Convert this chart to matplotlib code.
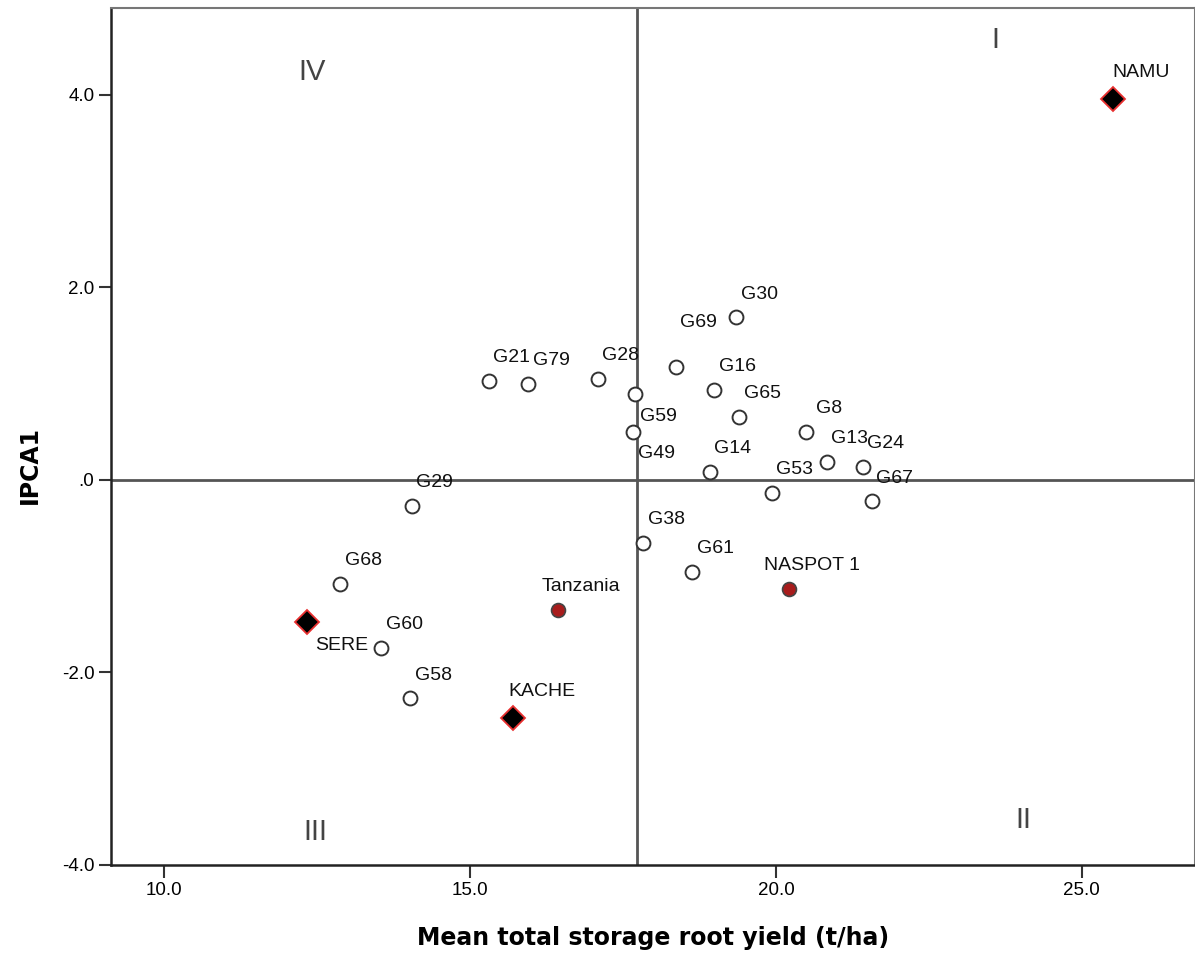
import matplotlib
matplotlib.use("Agg")
import matplotlib.pyplot as plt

# genotipos (circulos abiertos)
geno_nombres = ["G21", "G79", "G28", "G69", "G59", "G49", "G29", "G30", "G16",
                "G65", "G8", "G13", "G24", "G14", "G53", "G67", "G38", "G61",
                "G68", "G60", "G58"]
geno_x = [15.31, 15.95, 17.09, 18.37, 17.70, 17.66, 14.05, 19.35, 18.99,
          19.40, 20.49, 20.83, 21.42, 18.92, 19.93, 21.57, 17.83, 18.63,
          12.88, 13.55, 14.02]
geno_y = [1.03, 1.00, 1.05, 1.17, 0.89, 0.50, -0.27, 1.69, 0.935,
          0.655, 0.50, 0.19, 0.135, 0.083, -0.135, -0.22, -0.655, -0.956,
          -1.08, -1.745, -2.265]

# testigos locales (circulo rojo)
rojo_nombres = ["Tanzania", "NASPOT 1"]
rojo_x = [16.44, 20.21]
rojo_y = [-1.35, -1.13]

# padres (rombos)
padre_nombres = ["NAMU", "SERE", "KACHE"]
padre_x = [25.51, 12.34, 15.70]
padre_y = [3.96, -1.475, -2.47]

media_x = 17.73
cuadrantes = ["I", "II", "III", "IV"]
cuad_x = [23.58, 24.04, 12.47, 12.42]
cuad_y = [4.57, -3.53, -3.66, 4.24]

# desplazamiento de las etiquetas en puntos (por defecto arriba a la derecha)
desplaz = {"G59": (17, -16), "G49": (17, -16), "G69": (16, 32),
           "SERE": (25, -17), "NAMU": (20, 19), "KACHE": (21, 19)}
defecto = (16.5, 16.5)

fig = plt.figure(figsize=(11.95, 9.56), dpi=100)
ax = fig.add_axes([0.0929, 0.0952, 0.9071, 0.8964])

ax.axvline(media_x, color="#555555", lw=2, zorder=1)
ax.axhline(0, color="#555555", lw=2, zorder=1)

ax.plot(geno_x, geno_y, "o", ms=10, mfc="white", mec="#333333", mew=1.4,
        ls="none", zorder=3)
ax.plot(rojo_x, rojo_y, "o", ms=10, mfc="#a81c1c", mec="#444444", mew=1.2,
        ls="none", zorder=3)
ax.plot(padre_x, padre_y, "D", ms=12, mfc="black", mec="#e83030", mew=1.3,
        ls="none", zorder=3)

todos = list(zip(geno_nombres, geno_x, geno_y)) + \
    list(zip(rojo_nombres, rojo_x, rojo_y)) + \
    list(zip(padre_nombres, padre_x, padre_y))
for nombre, x, y in todos:
    dx, dy = desplaz.get(nombre, defecto)
    ax.annotate(nombre, (x, y), xytext=(dx, dy), textcoords="offset points",
                ha="center", va="center", fontsize=14,
                family="Liberation Sans", color="#111111", zorder=4)

for t, x, y in zip(cuadrantes, cuad_x, cuad_y):
    ax.text(x, y, t, fontsize=21, family="Liberation Sans", color="#444444",
            ha="center", va="center")

ax.set_xlim(9.13, 26.85)
ax.set_ylim(-4.0, 4.9)
ax.set_xticks([10, 15, 20, 25])
ax.set_xticklabels(["10.0", "15.0", "20.0", "25.0"])
ax.set_yticks([-4, -2, 0, 2, 4])
ax.set_yticklabels(["-4.0", "-2.0", ".0", "2.0", "4.0"])
ax.tick_params(direction="out", length=9, width=1.5, color="#333333",
               labelsize=13.5, pad=3)
for lab in ax.get_xticklabels() + ax.get_yticklabels():
    lab.set_family("Liberation Sans")

for lado in ["left", "bottom"]:
    ax.spines[lado].set_color("#222222")
    ax.spines[lado].set_linewidth(1.8)
for lado in ["top", "right"]:
    ax.spines[lado].set_color("#777777")
    ax.spines[lado].set_linewidth(1.5)

ax.set_xlabel("Mean total storage root yield (t/ha)", fontsize=17,
              fontweight="bold", family="DejaVu Sans")
ax.set_ylabel("IPCA1", fontsize=17, fontweight="bold", family="DejaVu Sans")
ax.xaxis.set_label_coords(0.5, -0.071)
ax.yaxis.set_label_coords(-0.064, 0.467)

plt.savefig("out.png", dpi=100)
